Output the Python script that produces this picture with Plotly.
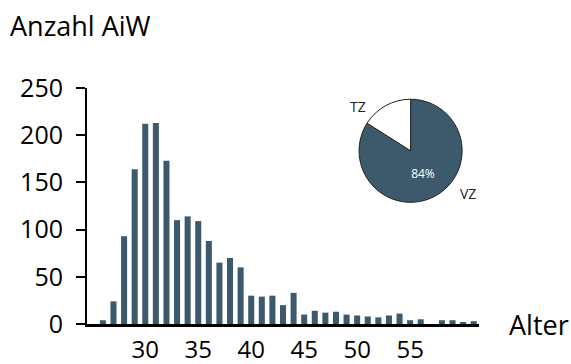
import plotly.graph_objects as go

# Age distribution (Anzahl AiW per Alter)
ages = list(range(26, 62))
counts = [4, 24, 93, 164, 212, 213, 173, 110, 114, 109, 88, 65, 70, 60,
          30, 29, 30, 20, 33, 10, 14, 12, 13, 10, 9, 8, 7, 9, 11, 4, 5, 0,
          4, 4, 2, 3]

# Share of full-time (VZ) vs part-time (TZ)
pie_labels = ["VZ", "TZ"]
pie_values = [84, 16]

x_ticks = [30, 35, 40, 45, 50, 55]
y_ticks = [0, 50, 100, 150, 200, 250]

BAR = "#3C5A6B"
FONT = "Open Sans"

fig = go.Figure()

fig.add_trace(go.Bar(
    x=ages, y=counts, marker=dict(color=BAR, line=dict(width=0)),
    showlegend=False, hoverinfo="x+y",
))

fig.add_trace(go.Pie(
    labels=pie_labels, values=pie_values,
    sort=False, direction="clockwise", rotation=0,
    marker=dict(colors=[BAR, "#FFFFFF"], line=dict(color="#222222", width=1)),
    textinfo="percent", texttemplate=["%{percent:.0%}", ""],
    textposition="inside", insidetextorientation="horizontal",
    textfont=dict(family=FONT, size=12, color="white"),
    domain=dict(x=[0.694, 0.957], y=[0.5155, 0.9525]),
    showlegend=False,
))

fig.update_layout(
    width=571, height=364,
    margin=dict(l=87, r=92, t=88, b=40, autoexpand=False),
    paper_bgcolor="white", plot_bgcolor="white",
    bargap=0.43,
    font=dict(family=FONT, color="#000000"),
    xaxis=dict(
        range=[24.5, 61.5], tickmode="array", tickvals=x_ticks,
        showgrid=False, zeroline=False, showline=True, automargin=False,
        linecolor="#000000", linewidth=2.5, ticks="",
        tickfont=dict(family=FONT, size=24), ticklabelstandoff=2,
    ),
    yaxis=dict(
        range=[0, 250], tickmode="array", tickvals=y_ticks,
        showgrid=False, zeroline=False, showline=True, automargin=False,
        linecolor="#000000", linewidth=2, ticks="outside",
        ticklen=9, tickwidth=2, tickcolor="#000000",
        tickfont=dict(family=FONT, size=25), ticklabelstandoff=8,
    ),
    annotations=[
        dict(text="Anzahl AiW", xref="paper", yref="paper",
             x=-0.2015, y=1.264, xanchor="left", yanchor="middle",
             showarrow=False, font=dict(family=FONT, size=27)),
        dict(text="Alter", xref="paper", yref="paper",
             x=1.071, y=0.0, xanchor="left", yanchor="middle",
             showarrow=False, font=dict(family=FONT, size=27)),
        dict(text="TZ", xref="paper", yref="paper",
             x=(358 - 87) / 392, y=(324 - 106.5) / 235.7,
             xanchor="center", yanchor="middle",
             showarrow=False, font=dict(family=FONT, size=14, color="#222222")),
        dict(text="VZ", xref="paper", yref="paper",
             x=(468 - 87) / 392, y=(324 - 193.5) / 235.7,
             xanchor="center", yanchor="middle",
             showarrow=False, font=dict(family=FONT, size=14, color="#222222")),
    ],
)

fig.write_html("out.html")
